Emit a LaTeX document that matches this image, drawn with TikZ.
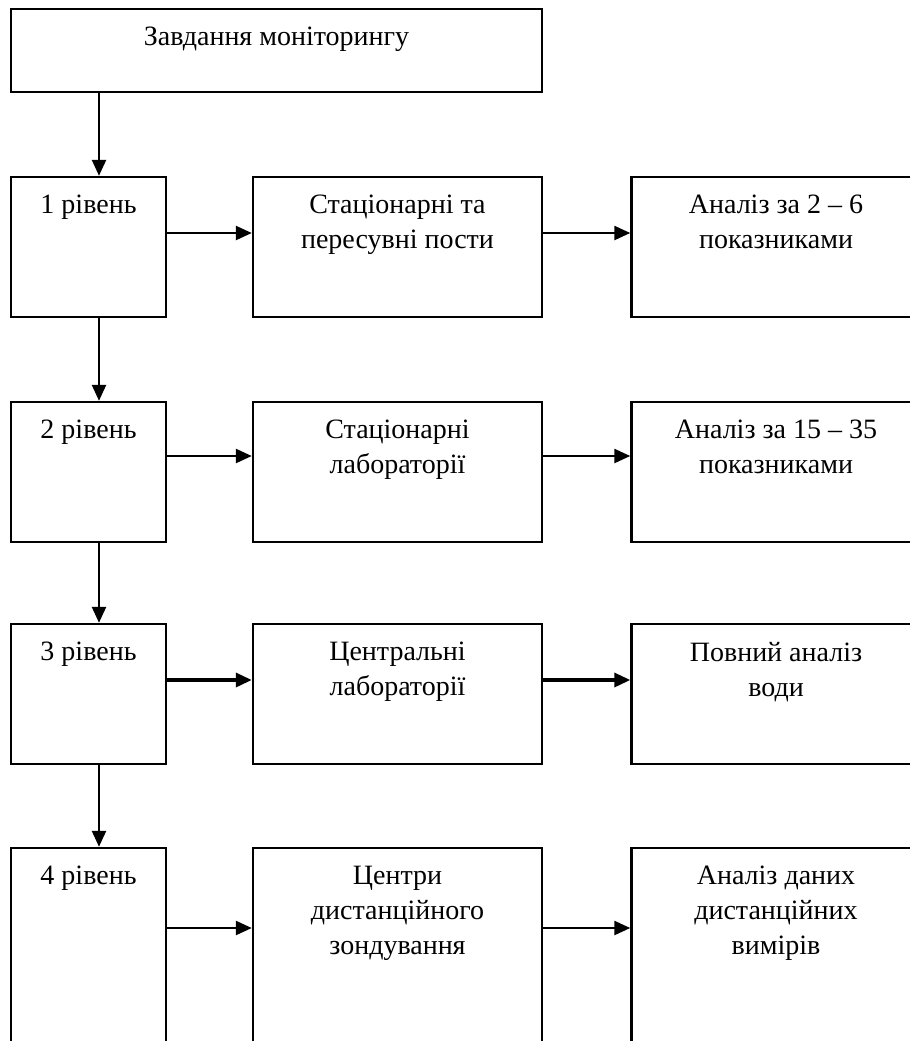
\documentclass[tikz,border=0pt]{standalone}
\usepackage{fontspec}
\setmainfont{Liberation Serif}
\usetikzlibrary{arrows.meta,positioning}
\tikzset{
  blk/.style={draw,line width=1.2pt,inner sep=0pt},
  lvl/.style={blk,minimum width=77.5pt},
  unit/.style={blk,minimum width=144.5pt},
  txt/.style={anchor=north,inner sep=0pt,yshift=-9.5pt,align=center,
    font=\fontsize{14}{17.5}\selectfont},
  ar/.style={-{Triangle[length=8pt,width=7pt]},line width=1.2pt},
}

\begin{document}
\begin{tikzpicture}[x=0.5pt,y=-0.5pt]
  \useasboundingbox (0,0) rectangle (910,1041);
  \clip (0,0) rectangle (910,1041);
  \node[blk,minimum width=265.5pt,minimum height=41.5pt] (task) at (276.5,50.5) {};
  \node[txt] (task-t) at (task.north) {Завдання моніторингу};
  \coordinate (vx) at (99,0);
  % levels: top edge / height / arrow offset / arrow width
  \foreach \r/\t/\h/\o/\w/\lt/\mt/\rt in {
    1/177/140/56/1.2/{1 рівень}/{Стаціонарні та\\пересувні пости}/{Аналіз за 2 – 6\\показниками},
    2/402/140/54/1.2/{2 рівень}/{Стаціонарні\\лабораторії}/{Аналіз за 15 – 35\\показниками},
    3/624/140/56/1.7/{3 рівень}/{Центральні\\лабораторії}/{Повний аналіз\\води},
    4/848/240/80/1.2/{4 рівень}/{Центри\\дистанційного\\зондування}/{Аналіз даних\\дистанційних\\вимірів}} {
    \node[lvl,minimum height={0.5pt*\h}] (L\r) at (88.5,\t+\h/2) {};
    \node[unit,minimum height={0.5pt*\h}] (M\r) at (397.5,\t+\h/2) {};
    \node[unit,minimum height={0.5pt*\h}] (R\r) at (776,\t+\h/2) {};
    \node[txt] (L\r-t) at (L\r.north) {\lt};
    \node[txt] (M\r-t) at (M\r.north) {\mt};
    \node[txt] (R\r-t) at (R\r.north) {\rt};
    \coordinate (a\r) at (0,\t+\o);
    \draw[ar,line width=\w pt] (L\r.east |- a\r) -- (M\r.west |- a\r);
    \draw[ar,line width=\w pt] (M\r.east |- a\r) -- (R\r.west |- a\r);
  }
  \draw[ar] (task.south -| vx) -- (L1.north -| vx);
  \foreach \i in {1,2,3} {
    \pgfmathtruncatemacro\j{\i+1}
    \draw[ar] (L\i.south -| vx) -- (L\j.north -| vx);
  }
\end{tikzpicture}
\end{document}
